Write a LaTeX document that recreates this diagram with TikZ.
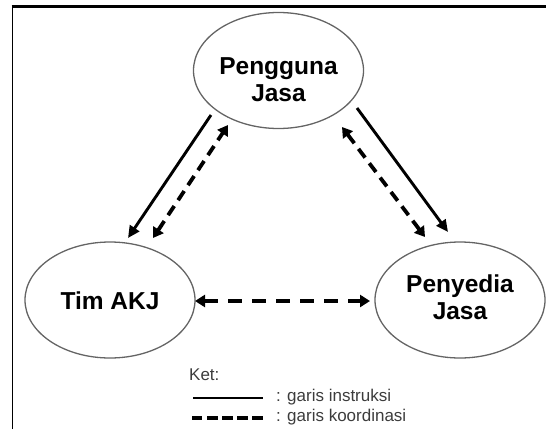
\documentclass[tikz,border=0pt]{standalone}
\usepackage{fontspec}
\setmainfont{Liberation Sans}
\usetikzlibrary{arrows.meta,calc,shapes.geometric}
\definecolor{edgegray}{RGB}{100,100,100}
\definecolor{legendgray}{RGB}{60,60,60}
\begin{document}
\begin{tikzpicture}[x=1pt,y=-1pt,
  party/.style={ellipse,draw=edgegray,line width=1.3pt,minimum width=170pt,minimum height=116pt,inner sep=0pt},
  partytext/.style={align=center,inner sep=0pt,font=\fontsize{24.5}{27.5}\selectfont\bfseries},
  instr/.style={line width=2.9pt,-{Triangle[length=12pt,width=11pt]}},
  koord/.style={line width=3.8pt,dash pattern=on 11pt off 7pt,{Triangle[length=10pt,width=12pt]}-{Triangle[length=10pt,width=12pt]}},
  legtext/.style={font=\fontsize{17}{20}\selectfont,anchor=west,inner sep=0pt,text=legendgray}
]
\useasboundingbox (0,0) rectangle (546,429);
% frame
\coordinate (fbl) at (12.5,429);
\coordinate (ftl) at (12.5,6.5);
\coordinate (ftr) at (546,6.5);
\draw[line width=1.8pt] (fbl) -- (ftl);
\draw[line width=2.4pt] ($(ftl)+(-0.9,0)$) -- (ftr);
% parties
\node[party,label={[partytext,yshift=-9pt]center:Pengguna\\Jasa}] (T) at (278.5,70.5) {};
\node[party,label={[partytext,yshift=-1pt]center:Tim AKJ}] (L) at (110,300) {};
\node[party,label={[partytext,yshift=3pt]center:Penyedia\\Jasa}] (R) at (460,300) {};
% connectors
\draw[instr] ($(T.center)+(-67.5,44.5)$) -- ($(L.center)+(18,-62)$);
\draw[koord] ($(L.center)+(43,-62)$) -- ($(T.center)+(-50.5,54.5)$);
\draw[instr] ($(T.center)+(78.5,37.5)$) -- ($(R.center)+(-12,-68)$);
\draw[koord] ($(T.center)+(63.5,56.5)$) -- ($(R.center)+(-35,-63)$);
\draw[koord,dash pattern=on 14pt off 10pt] ($(L.center)+(85,1)$) -- ($(R.center)+(-90,1)$);
% legend
\node[legtext] (ket) at (189,375) {Ket:};
\coordinate (s1) at (193,398);
\coordinate (s2) at (263,398);
\coordinate (d1) at (192,418);
\coordinate (d2) at (263,418);
\draw[line width=2.9pt] (s1) -- (s2);
\draw[line width=3.6pt,dash pattern=on 10.4pt off 4.7pt] (d1) -- (d2);
\node[legtext] (lins) at (276,397) {: garis instruksi};
\node[legtext] (lkoo) at (276,417) {: garis koordinasi};
\end{tikzpicture}
\end{document}
